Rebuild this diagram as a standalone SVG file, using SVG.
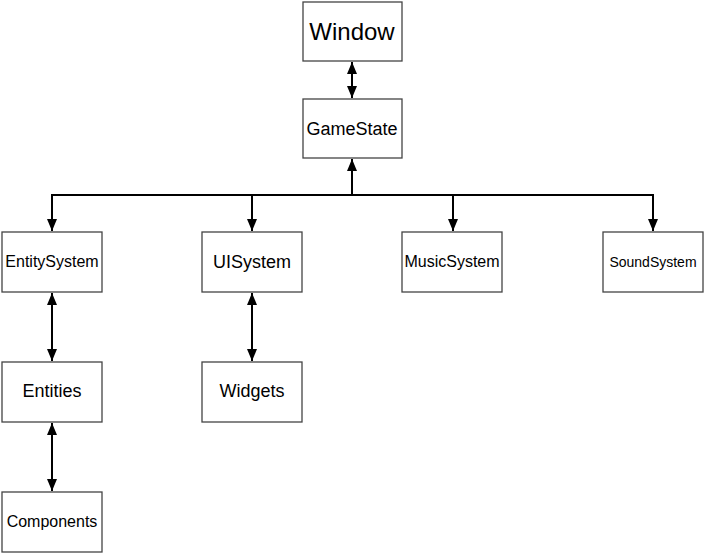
<svg xmlns="http://www.w3.org/2000/svg" width="706" height="555" viewBox="0 0 706 555">
<style>
.box{fill:#fff;stroke:#444;stroke-width:1.3}
.t{font-family:"Liberation Sans",Arial,sans-serif;fill:#000;text-anchor:middle}
.c{fill:none;stroke:#000;stroke-width:2}
</style>
<defs>
<marker id="ah" markerUnits="userSpaceOnUse" markerWidth="12" markerHeight="12" viewBox="0 0 12 12" refX="12" refY="6" orient="auto-start-reverse">
<path d="M0,1 L12,6 L0,11 Z" fill="#000"/>
</marker>
</defs>
<rect width="706" height="555" fill="#fff"/>
<g id="connectors">
<line class="c" x1="352" y1="62" x2="352" y2="98" marker-start="url(#ah)" marker-end="url(#ah)"/>
<line class="c" x1="352" y1="195" x2="352" y2="159" stroke-width="3" marker-end="url(#ah)"/>
<polyline class="c" points="52,231 52,195 653,195 653,231" marker-start="url(#ah)" marker-end="url(#ah)"/>
<line class="c" x1="252" y1="195" x2="252" y2="231" marker-end="url(#ah)"/>
<line class="c" x1="453" y1="195" x2="453" y2="231" marker-end="url(#ah)"/>
<line class="c" x1="52" y1="293" x2="52" y2="361" marker-start="url(#ah)" marker-end="url(#ah)"/>
<line class="c" x1="252" y1="293" x2="252" y2="361" marker-start="url(#ah)" marker-end="url(#ah)"/>
<line class="c" x1="52" y1="423" x2="52" y2="491" marker-start="url(#ah)" marker-end="url(#ah)"/>
</g>
<g id="window"><rect class="box" x="303" y="2" width="99" height="59"/><text class="t" x="352" y="40" font-size="24">Window</text></g>
<g id="gamestate"><rect class="box" x="303" y="99" width="99" height="59"/><text class="t" x="352" y="135" font-size="18">GameState</text></g>
<g id="entitysystem"><rect class="box" x="2" y="232" width="100" height="60"/><text class="t" x="52" y="267" font-size="16">EntitySystem</text></g>
<g id="uisystem"><rect class="box" x="202" y="232" width="100" height="60"/><text class="t" x="252" y="268" font-size="18">UISystem</text></g>
<g id="musicsystem"><rect class="box" x="402" y="232" width="100" height="60"/><text class="t" x="452" y="267" font-size="16">MusicSystem</text></g>
<g id="soundsystem"><rect class="box" x="603" y="232" width="100" height="60"/><text class="t" x="653" y="267" font-size="14">SoundSystem</text></g>
<g id="entities"><rect class="box" x="2" y="362" width="100" height="60"/><text class="t" x="52" y="397" font-size="18">Entities</text></g>
<g id="widgets"><rect class="box" x="202" y="362" width="100" height="60"/><text class="t" x="252" y="397" font-size="18">Widgets</text></g>
<g id="components"><rect class="box" x="2" y="492" width="100" height="60"/><text class="t" x="52" y="527" font-size="16">Components</text></g>
</svg>
